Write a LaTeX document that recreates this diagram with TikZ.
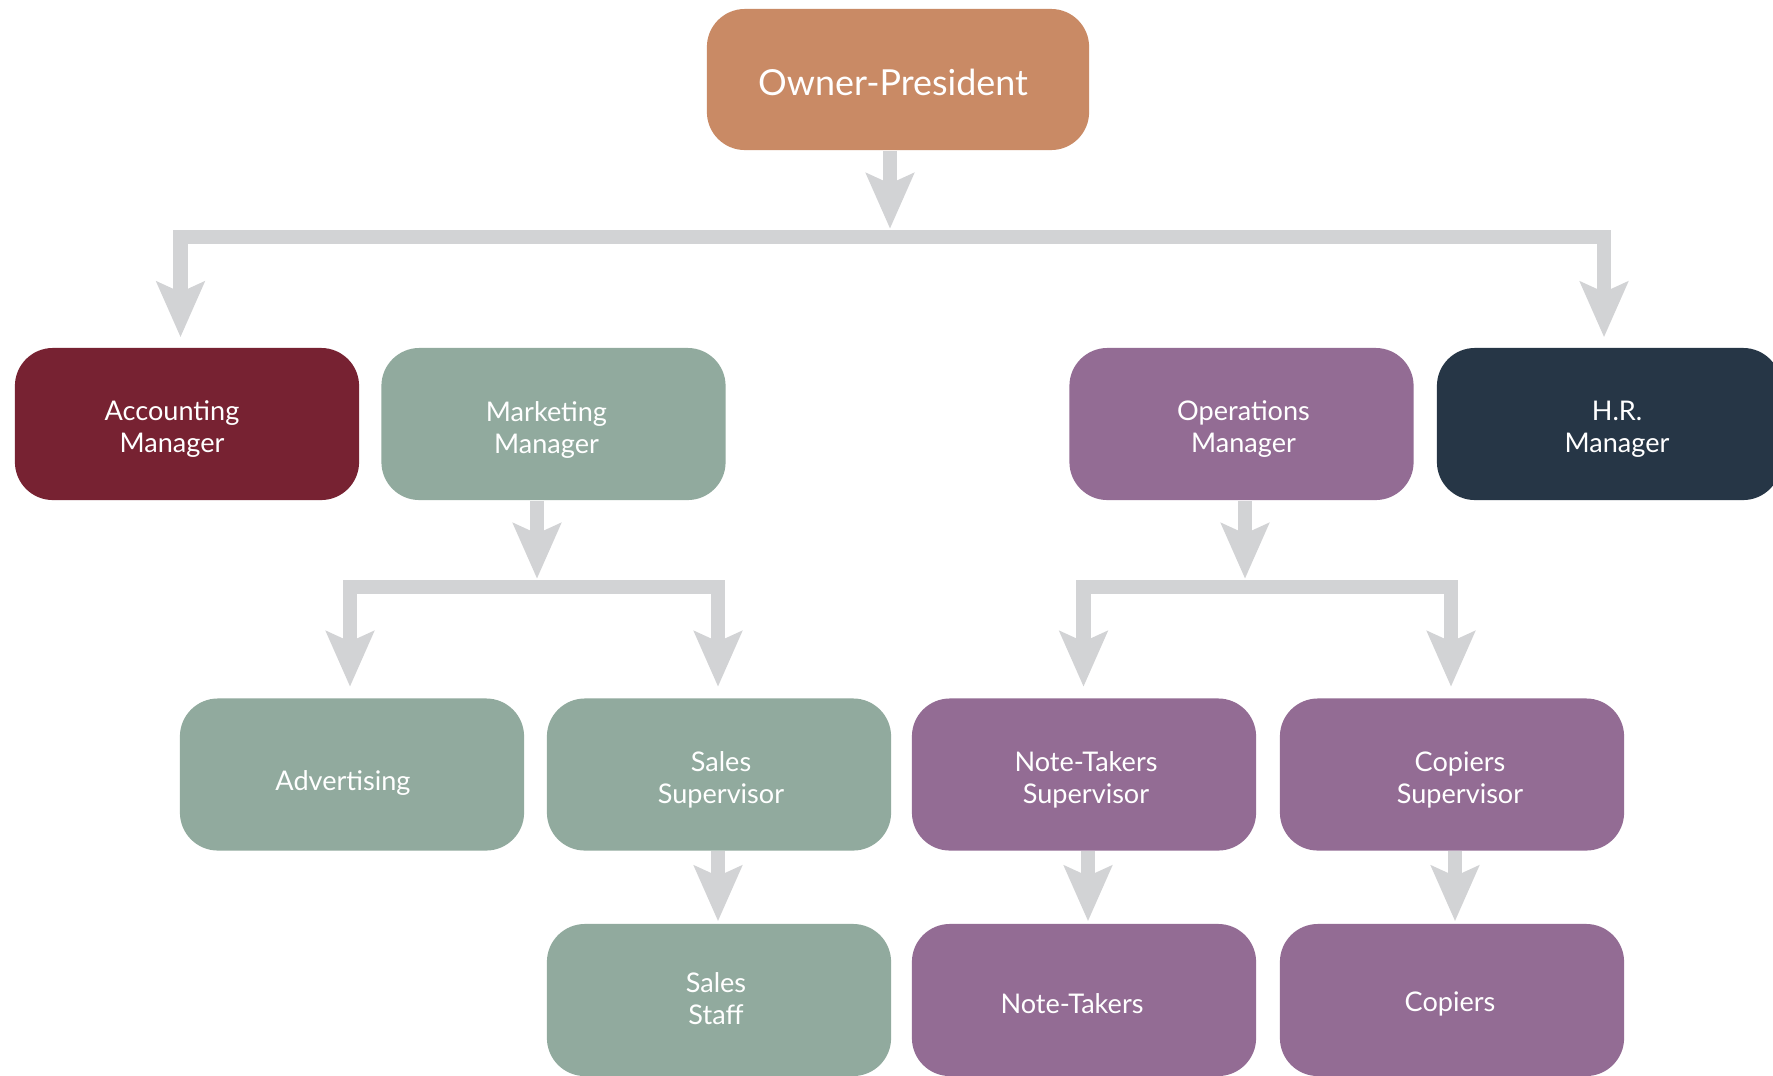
\documentclass[tikz,border=0pt]{standalone}
\usepackage{fontspec}
\setmainfont{Lato}
\usetikzlibrary{arrows.meta,calc}
\definecolor{ownerc}{HTML}{C98A65}
\definecolor{accc}{HTML}{772232}
\definecolor{mktc}{HTML}{91AA9E}
\definecolor{purc}{HTML}{936C94}
\definecolor{hrc}{HTML}{263646}
\definecolor{arrc}{HTML}{D2D3D5}
\begin{document}
\begin{tikzpicture}[x=0.01cm,y=-0.01cm,
  box/.style={rounded corners=0.38cm, minimum width=3.44cm, minimum height=1.52cm, inner sep=0pt, draw=none},
  txt/.style={text=white, align=center, inner sep=0pt, font=\fontsize{7.7pt}{9.1pt}\selectfont},
  conn/.style={draw=arrc, line width=0.145cm, line join=miter,
    -{Stealth[length=0.55cm, width=0.47cm, inset=0.1cm]}},
  bar/.style={draw=arrc, line width=0.145cm, line join=miter,
    {Stealth[length=0.55cm, width=0.47cm, inset=0.1cm]}-{Stealth[length=0.55cm, width=0.47cm, inset=0.1cm]}}
]
\path[use as bounding box, fill=white] (0,0) rectangle (1773,1075);
\clip (0,0) rectangle (1773,1075);

% boxes
\node[box, fill=ownerc, minimum width=3.82cm, minimum height=1.41cm] (own) at (898,79.5) {};
\node[box, fill=accc] (acc) at (187,424) {};
\node[box, fill=mktc] (mkt) at (553.5,424) {};
\node[box, fill=purc] (ops) at (1241.5,424) {};
\node[box, fill=hrc] (hr) at (1609,424) {};
\node[box, fill=mktc] (adv) at (352,774.5) {};
\node[box, fill=mktc] (ssup) at (719,774.5) {};
\node[box, fill=purc] (nsup) at (1084,774.5) {};
\node[box, fill=purc] (csup) at (1452,774.5) {};
\node[box, fill=mktc] (sstaff) at (719,1000) {};
\node[box, fill=purc] (nt) at (1084,1000) {};
\node[box, fill=purc] (cop) at (1452,1000) {};

% texts
\node[txt, font=\fontsize{10.2pt}{12pt}\selectfont] (ownT) at ($(own.center)+(-5,3)$) {Owner-President};
\node[txt] (accT) at ($(acc.center)+(-15,5.5)$) {Accounting\\Manager};
\node[txt] (mktT) at ($(mkt.center)+(-7,5.5)$) {Marketing\\Manager};
\node[txt] (opsT) at ($(ops.center)+(2,5.5)$) {Operations\\Manager};
\node[txt] (hrT) at ($(hr.center)+(8,5.5)$) {H.R.\\Manager};
\node[txt] (advT) at ($(adv.center)+(-9,8.5)$) {Advertising};
\node[txt] (ssupT) at ($(ssup.center)+(2,5)$) {Sales\\Supervisor};
\node[txt] (nsupT) at ($(nsup.center)+(2,5)$) {Note-Takers\\Supervisor};
\node[txt] (csupT) at ($(csup.center)+(8,5)$) {Copiers\\Supervisor};
\node[txt] (sstaffT) at ($(sstaff.center)+(-3,-1.5)$) {Sales\\Staff};
\node[txt] (ntT) at ($(nt.center)+(-12,4)$) {Note-Takers};
\node[txt] (copT) at ($(cop.center)+(-2,4)$) {Copiers};

% level 1 connectors
\coordinate (ownS) at ($(own.south)+(-8,0)$);
\coordinate (ownTip) at ($(ownS)+(0,78)$);
\coordinate (accTip) at ($(acc.north)+(-6.5,-10)$);
\coordinate (hrTip) at ($(hr.north)+(-5,-10)$);
\draw[conn] (ownS) -- (ownTip);
\draw[bar] (accTip) |- ($(ownTip)+(0,8)$) -| (hrTip);

% marketing
\coordinate (mktS) at ($(mkt.south)+(-16.5,0)$);
\coordinate (mktTip) at ($(mktS)+(0,78)$);
\coordinate (advTip) at ($(adv.north)+(-2,-11)$);
\coordinate (ssupTip) at ($(ssup.north)+(-1,-11)$);
\draw[conn] (mktS) -- (mktTip);
\draw[bar] (advTip) |- ($(mktTip)+(0,8)$) -| (ssupTip);

% operations
\coordinate (opsS) at ($(ops.south)+(3.5,0)$);
\coordinate (opsTip) at ($(opsS)+(0,78)$);
\coordinate (nsupTip) at ($(nsup.north)+(-0.5,-11)$);
\coordinate (csupTip) at ($(csup.north)+(-1,-11)$);
\draw[conn] (opsS) -- (opsTip);
\draw[bar] (nsupTip) |- ($(opsTip)+(0,8)$) -| (csupTip);

% level 3 to 4
\draw[conn] ($(ssup.south)+(-1,0)$) -- ($(sstaff.north)+(-1,-2)$);
\draw[conn] ($(nsup.south)+(4,0)$) -- ($(nt.north)+(4,-2)$);
\draw[conn] ($(csup.south)+(3,0)$) -- ($(cop.north)+(3,-2)$);
\end{tikzpicture}
\end{document}
